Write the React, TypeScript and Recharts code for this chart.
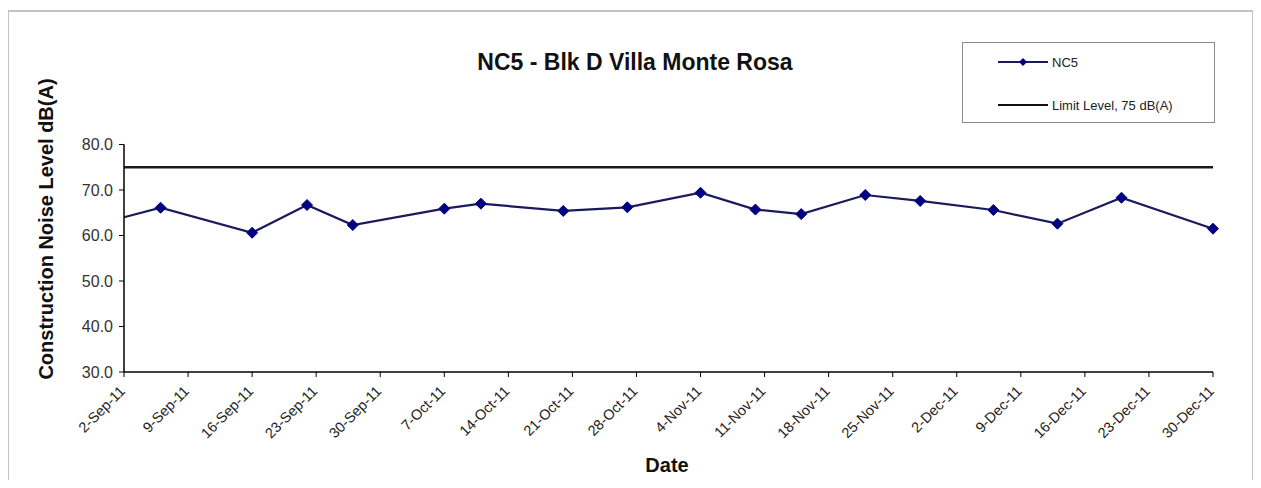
import { LineChart, Line, XAxis, YAxis } from "recharts";

const MONTHS = ["Jan", "Feb", "Mar", "Apr", "May", "Jun", "Jul", "Aug", "Sep", "Oct", "Nov", "Dec"];

// weekly date ticks along the x axis
const tickLabels = [
  "2-Sep-11", "9-Sep-11", "16-Sep-11", "23-Sep-11", "30-Sep-11", "7-Oct-11",
  "14-Oct-11", "21-Oct-11", "28-Oct-11", "4-Nov-11", "11-Nov-11", "18-Nov-11",
  "25-Nov-11", "2-Dec-11", "9-Dec-11", "16-Dec-11", "23-Dec-11", "30-Dec-11",
];

// NC5 measurements (first one sits on the axis, drawn without marker)
const nc5Dates = [
  "2-Sep-11", "6-Sep-11", "16-Sep-11", "22-Sep-11", "27-Sep-11", "7-Oct-11",
  "11-Oct-11", "20-Oct-11", "27-Oct-11", "4-Nov-11", "10-Nov-11", "15-Nov-11",
  "22-Nov-11", "28-Nov-11", "6-Dec-11", "13-Dec-11", "20-Dec-11", "30-Dec-11",
];
const nc5Values = [
  64.0, 66.1, 60.6, 66.7, 62.3, 65.9,
  67.0, 65.4, 66.2, 69.4, 65.7, 64.7,
  68.9, 67.6, 65.6, 62.6, 68.3, 61.5,
];

const limitLevel = 75;
const yTicks = [30, 40, 50, 60, 70, 80];

const toDay = (label: string) => {
  const [d, m, y] = label.split("-");
  return Date.UTC(2000 + Number(y), MONTHS.indexOf(m), Number(d)) / 86400000;
};

const tickDays = tickLabels.map(toDay);
const firstDay = tickDays[0];
const lastDay = tickDays[tickDays.length - 1];

const data = nc5Dates.map((d, i) => {
  const day = toDay(d);
  return {
    day,
    nc5: nc5Values[i],
    limit: day === firstDay || day === lastDay ? limitLevel : null,
  };
});

const labelForDay = (day: number) => {
  const i = tickDays.indexOf(day);
  return i >= 0 ? tickLabels[i] : "";
};

const FONT = "'Liberation Sans', Arial, sans-serif";
const NAVY = "#000080";
const LINE = "#1a1a5c";

function DateTick(props: any) {
  const { x, y, payload } = props;
  const ax = x + 2;
  const ay = y + 13;
  return (
    <text
      x={ax}
      y={ay}
      textAnchor="end"
      transform={`rotate(-45 ${ax} ${ay})`}
      fontSize={14.5}
      fontFamily={FONT}
      fill="#222"
    >
      {labelForDay(payload.value)}
    </text>
  );
}

function Diamond(props: any) {
  const { cx, cy, index } = props;
  if (index === 0 || cx == null || cy == null) return <g key={`d${index}`} />;
  const r = 5.5;
  return (
    <path
      key={`d${index}`}
      d={`M${cx},${cy - r}L${cx + r},${cy}L${cx},${cy + r}L${cx - r},${cy}Z`}
      fill={NAVY}
      stroke={NAVY}
      strokeWidth={1}
    />
  );
}

export default function App() {
  return (
    <div style={{ position: "relative", width: 1245, height: 472, fontFamily: FONT, background: "#fff" }}>
      <div
        style={{
          position: "absolute",
          left: -1,
          top: 2,
          width: 1247,
          height: 476,
          border: "2px solid #c4c4c4",
          boxSizing: "border-box",
          pointerEvents: "none",
        }}
      />
      <div
        style={{
          position: "absolute",
          left: 427,
          top: 43,
          width: 400,
          textAlign: "center",
          fontSize: 23,
          lineHeight: "23px",
          fontWeight: "bold",
          color: "#111",
        }}
      >
        NC5 - Blk D Villa Monte Rosa
      </div>
      <div
        style={{
          position: "absolute",
          left: 38 - 170,
          top: 221 - 12,
          width: 340,
          height: 24,
          lineHeight: "24px",
          textAlign: "center",
          fontSize: 20,
          fontWeight: "bold",
          color: "#111",
          transform: "rotate(-90deg)",
          whiteSpace: "nowrap",
        }}
      >
        Construction Noise Level dB(A)
      </div>
      <div
        style={{
          position: "absolute",
          left: 559,
          top: 447,
          width: 200,
          textAlign: "center",
          fontSize: 20,
          lineHeight: "20px",
          fontWeight: "bold",
          color: "#111",
        }}
      >
        Date
      </div>
      <svg
        width={253}
        height={81}
        style={{ position: "absolute", left: 954, top: 34, overflow: "visible" }}
      >
        <rect x={0.5} y={0.5} width={252} height={80} fill="#fff" stroke="#8a8a8a" strokeWidth={1} />
        <line x1={36} x2={86} y1={20} y2={20} stroke={LINE} strokeWidth={2} />
        <path d="M61,16L65,20L61,24L57,20Z" fill={NAVY} />
        <text x={90} y={24.5} fontSize={13} fontFamily={FONT} fill="#222">NC5</text>
        <line x1={36} x2={86} y1={63} y2={63} stroke="#111" strokeWidth={2} />
        <text x={90} y={67.5} fontSize={13} fontFamily={FONT} fill="#222">Limit Level, 75 dB(A)</text>
      </svg>
      <div style={{ position: "absolute", left: 0, top: 0 }}>
        <LineChart width={1245} height={472} data={data} margin={{ top: 136.5, right: 40, bottom: 0, left: 0 }}>
          <XAxis
            dataKey="day"
            type="number"
            domain={[firstDay, lastDay]}
            ticks={tickDays}
            interval={0}
            tick={<DateTick />}
            tickSize={5}
            tickMargin={2}
            height={108}
            axisLine={{ stroke: "#000", strokeWidth: 1.5 }}
            tickLine={{ stroke: "#000" }}
          />
          <YAxis
            type="number"
            domain={[30, 80]}
            ticks={yTicks}
            interval={0}
            tickFormatter={(v: number) => v.toFixed(1)}
            width={116}
            tickSize={5}
            tickMargin={6}
            axisLine={{ stroke: "#000", strokeWidth: 1.5 }}
            tickLine={{ stroke: "#000" }}
            tick={{ fontSize: 16, fill: "#333", fontFamily: FONT }}
          />
          <Line
            dataKey="limit"
            stroke="#1a1a1a"
            strokeWidth={2.5}
            dot={false}
            connectNulls
            isAnimationActive={false}
          />
          <Line
            dataKey="nc5"
            stroke={LINE}
            strokeWidth={2.2}
            dot={<Diamond />}
            activeDot={false}
            isAnimationActive={false}
          />
        </LineChart>
      </div>
    </div>
  );
}
